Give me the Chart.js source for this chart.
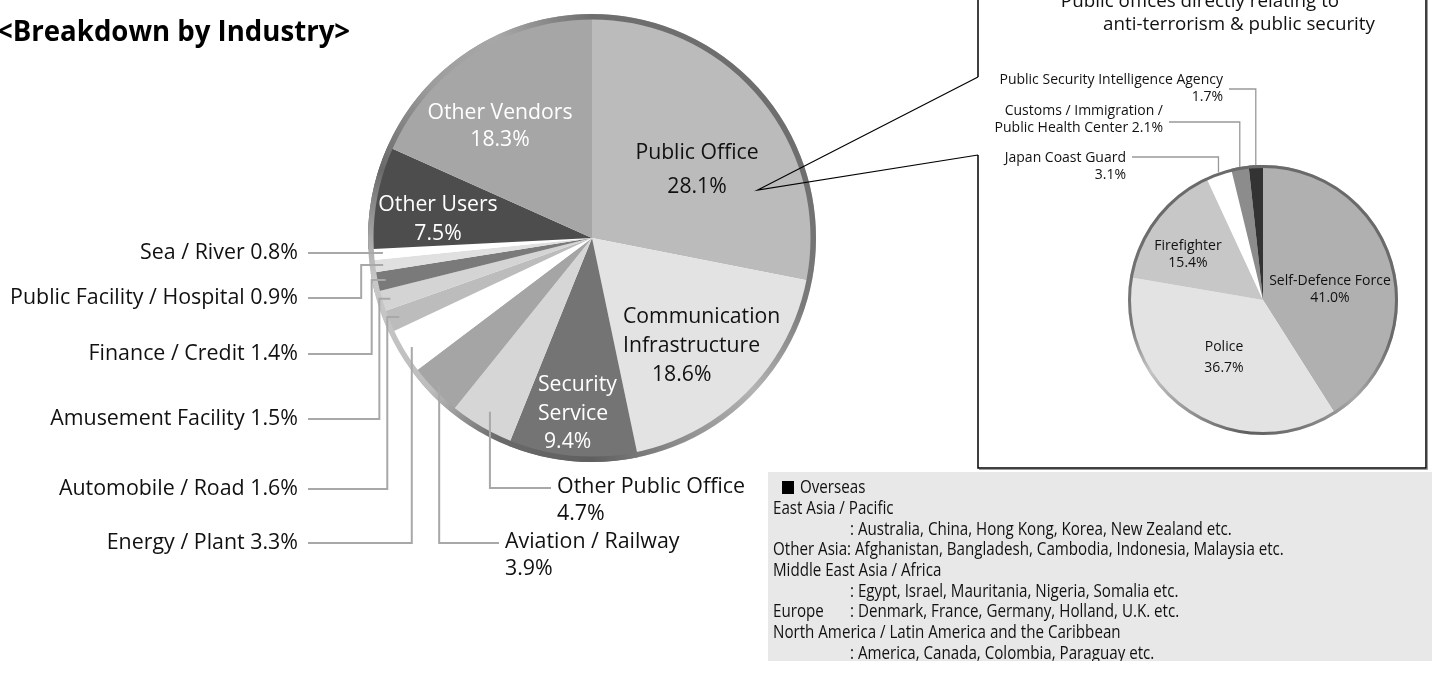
<!DOCTYPE html>
<html>
<head>
<meta charset="utf-8">
<script src="https://cdn.jsdelivr.net/npm/chart.js@4.4.1/dist/chart.umd.min.js"></script>
<style>
  html, body { margin: 0; padding: 0; background: #fff; }
  #wrap { position: relative; width: 1432px; height: 675px; overflow: hidden; }
  #wrap canvas { position: absolute; left: 0; top: 0; }
</style>
</head>
<body>
<div id="wrap">
  <canvas id="industryChart" width="1432" height="675"></canvas>
  <canvas id="securityChart" width="1432" height="675"></canvas>
</div>
<script>
// Industry breakdown (clockwise from 12 o'clock)
const industries = [
  'Public Office', 'Communication\nInfrastructure', 'Security\nService', 'Other Public Office',
  'Aviation / Railway', 'Energy / Plant', 'Automobile / Road', 'Amusement Facility',
  'Finance / Credit', 'Public Facility / Hospital', 'Sea / River', 'Other Users', 'Other Vendors'
];
const industryShares = [28.1, 18.6, 9.4, 4.7, 3.9, 3.3, 1.6, 1.5, 1.4, 0.9, 0.8, 7.5, 18.3];
const industryColors = [
  '#bbbbbb', '#e3e3e3', '#747474', '#d6d6d6', '#a5a5a5', '#ffffff', '#bcbcbc',
  '#d4d4d4', '#7a7a7a', '#e0e0e0', '#ffffff', '#4d4d4d', '#a6a6a6'
];

// Public office detail
const securityUnits = [
  'Self-Defence Force', 'Police', 'Firefighter', 'Japan Coast Guard',
  'Customs / Immigration /\nPublic Health Center', 'Public Security Intelligence Agency'
];
const securityShares = [41.0, 36.7, 15.4, 3.1, 2.1, 1.7];
const securityColors = ['#b0b0b0', '#e3e3e3', '#c7c7c7', '#ffffff', '#8c8c8c', '#333333'];

// Overseas note: [label, detail]
const overseasNote = [
  ['East Asia / Pacific', null],
  [null, ': Australia, China, Hong Kong, Korea, New Zealand etc.'],
  ['Other Asia: Afghanistan, Bangladesh, Cambodia, Indonesia, Malaysia etc.', null],
  ['Middle East Asia / Africa', null],
  [null, ': Egypt, Israel, Mauritania, Nigeria, Somalia etc.'],
  ['Europe', ': Denmark, France, Germany, Holland, U.K. etc.'],
  ['North America / Latin America and the Caribbean', null],
  [null, ': America, Canada, Colombia, Paraguay etc.']
];

const FONT = "'Open Sans', Lato, sans-serif";
Chart.defaults.font.family = FONT;

const pct = v => v.toFixed(1) + '%';

function arcPoint(arc, frac) {
  const mid = (arc.startAngle + arc.endAngle) / 2;
  const r = arc.outerRadius * frac;
  return { x: arc.x + Math.cos(mid) * r, y: arc.y + Math.sin(mid) * r };
}

// sx squeezes the text horizontally (the note block uses a narrow face)
function text(ctx, str, x, y, size, opts = {}) {
  const sx = opts.sx || 1;
  ctx.save();
  ctx.font = (opts.bold ? 'bold ' : '') + size + 'px ' + FONT;
  ctx.fillStyle = opts.color || '#111';
  ctx.textAlign = opts.align || 'left';
  ctx.textBaseline = 'middle';
  ctx.translate(x, y);
  ctx.scale(sx, 1);
  ctx.fillText(str, 0, 0);
  ctx.restore();
}

function polyline(ctx, pts, color, width) {
  ctx.save();
  ctx.beginPath();
  pts.forEach((p, k) => k ? ctx.lineTo(p[0], p[1]) : ctx.moveTo(p[0], p[1]));
  ctx.strokeStyle = color;
  ctx.lineWidth = width;
  ctx.stroke();
  ctx.restore();
}

// shaded rim around a pie
const pieRing = {
  id: 'pieRing',
  afterDatasetsDraw(chart, args, opts) {
    const arc = chart.getDatasetMeta(0).data[0];
    const ctx = chart.ctx;
    const g = ctx.createConicGradient(-Math.PI / 2, arc.x, arc.y);
    opts.stops.forEach(([o, c]) => g.addColorStop(o, c));
    ctx.save();
    ctx.beginPath();
    ctx.arc(arc.x, arc.y, arc.outerRadius - opts.width / 2, 0, Math.PI * 2);
    ctx.lineWidth = opts.width;
    ctx.strokeStyle = g;
    ctx.stroke();
    ctx.restore();
  }
};

const LABEL = 21.4;

// labels inside the big pie
const insideLabels = [
  { i: 12, x: 500, y: 113, lh: 27, color: '#fff', align: 'center' },
  { i: 0, x: 697, y: 153, lh: 34, color: '#111', align: 'center' },
  { i: 11, x: 438, y: 205, lh: 29, color: '#fff', align: 'center' },
  { i: 1, x: 623, y: 317, lh: 29, color: '#111', align: 'left', pctX: 652 },
  { i: 2, x: 538, y: 385, lh: 28.5, color: '#fff', align: 'left', pctX: 544 }
];
// left side labels with elbow leaders
const sideLabels = [
  { i: 10, y: 253, r: 0.94, stub: 0 },
  { i: 9, y: 298, r: 0.94, stub: 22 },
  { i: 8, y: 354, r: 0.94, stub: 14 },
  { i: 7, y: 419, r: 0.94, stub: 11 },
  { i: 6, y: 489, r: 0.93, stub: 12 },
  { i: 5, y: 543, r: 0.94, stub: 0 }
];
// labels under the pie, leader going right
const bottomLabels = [
  { i: 3, y: 488, x: 557, r: 0.9 },
  { i: 4, y: 543, x: 505, r: 0.95 }
];

const industryLabels = {
  id: 'industryLabels',
  afterDraw(chart) {
    const ctx = chart.ctx;
    const arcs = chart.getDatasetMeta(0).data;
    const lead = '#a8a8a8';

    text(ctx, '<Breakdown by Industry>', -3, 33, 28, { bold: true, color: '#000', sx: 0.985 });

    insideLabels.forEach(l => {
      const lines = industries[l.i].split('\n');
      lines.forEach((s, k) => text(ctx, s, l.x, l.y + k * l.lh, 21.2, { color: l.color, align: l.align }));
      text(ctx, pct(industryShares[l.i]), l.pctX || l.x, l.y + lines.length * l.lh, 21.2, { color: l.color, align: l.align });
    });

    sideLabels.forEach(l => {
      const a = arcPoint(arcs[l.i], l.r);
      const ex = a.x - l.stub;
      polyline(ctx, [[a.x, a.y], [ex, a.y], [ex, l.y], [308, l.y]], lead, 2);
      text(ctx, industries[l.i] + ' ' + pct(industryShares[l.i]), 298, l.y, LABEL, { align: 'right' });
    });

    bottomLabels.forEach(l => {
      const a = arcPoint(arcs[l.i], l.r);
      polyline(ctx, [[a.x, a.y], [a.x, l.y], [l.x - 6, l.y]], lead, 2);
      text(ctx, industries[l.i], l.x, l.y - 1, LABEL);
      text(ctx, pct(industryShares[l.i]), l.x, l.y + 26, LABEL);
    });

    // callout from Public Office to the detail box
    const po = arcs[0];
    const tipA = -Math.PI / 2 + (po.endAngle - po.startAngle) * 0.73;
    const tip = [po.x + Math.cos(tipA) * po.outerRadius * 0.77, po.y + Math.sin(tipA) * po.outerRadius * 0.77];
    polyline(ctx, [[978, 77], tip, [978, 155]], '#000', 1.2);
    polyline(ctx, [[978, -2], [978, 77]], '#000', 1.5);
    polyline(ctx, [[978, 155], [978, 468], [1426, 468], [1426, -2]], '#000', 1.5);
    polyline(ctx, [[979, 469.5], [1427.5, 469.5], [1427.5, 0]], '#9a9a9a', 1);

    // overseas note
    const sx = 0.865;
    ctx.save();
    ctx.fillStyle = '#e8e8e8';
    ctx.fillRect(768, 472, 664, 189);
    ctx.beginPath();
    ctx.rect(768, 472, 664, 189);
    ctx.clip();
    ctx.fillStyle = '#000';
    ctx.fillRect(782, 481, 12, 13);
    text(ctx, 'Overseas', 800, 488, 17.5, { sx });
    overseasNote.forEach(([head, detail], k) => {
      const y = 509 + k * 20.7;
      if (head) text(ctx, head, 773, y, 17.5, { sx });
      if (detail) text(ctx, detail, 850, y, 17.5, { sx });
    });
    ctx.restore();
  }
};

new Chart(document.getElementById('industryChart'), {
  type: 'pie',
  data: {
    labels: industries,
    datasets: [{ data: industryShares, backgroundColor: industryColors, borderWidth: 0 }]
  },
  options: {
    responsive: false,
    animation: false,
    events: [],
    layout: { padding: { left: 368, right: 616, top: 14, bottom: 213 } },
    plugins: {
      legend: { display: false },
      tooltip: { enabled: false },
      pieRing: {
        width: 5.5,
        stops: [
          [0, '#6e6e6e'], [0.2, '#6e6e6e'], [0.3, '#7a7a7a'], [0.37, '#b3b3b3'], [0.44, '#8a8a8a'],
          [0.5, '#5f5f5f'], [0.57, '#6a6a6a'], [0.63, '#bdbdbd'], [0.72, '#c8c8c8'], [0.76, '#9a9a9a'],
          [0.8, '#6a6a6a'], [0.87, '#9c9c9c'], [0.93, '#a8a8a8'], [1, '#6e6e6e']
        ]
      }
    }
  },
  plugins: [pieRing, industryLabels]
});

// detail pie labels
const unitInside = [
  { i: 0, x: 1330, y: 281, lh: 17 },
  { i: 1, x: 1224, y: 347, lh: 21 },
  { i: 2, x: 1188, y: 246, lh: 17 }
];
const unitSide = [
  { i: 5, lineY: 89, textX: 1223, textY: 80 },
  { i: 4, lineY: 122, textX: 1163, textY: 111, inline: true },
  { i: 3, lineY: 157, textX: 1126, textY: 158 }
];

const securityLabels = {
  id: 'securityLabels',
  afterDraw(chart) {
    const ctx = chart.ctx;
    const arcs = chart.getDatasetMeta(0).data;

    text(ctx, 'Public offices directly relating to', 1200, 2, 18.8, { align: 'center' });
    text(ctx, 'anti-terrorism & public security', 1239, 25, 18.8, { align: 'center' });

    unitInside.forEach(l => {
      text(ctx, securityUnits[l.i], l.x, l.y, 14, { align: 'center' });
      text(ctx, pct(securityShares[l.i]), l.x, l.y + l.lh, 14, { align: 'center' });
    });

    unitSide.forEach(l => {
      const a = arcPoint(arcs[l.i], 1.0);
      polyline(ctx, [[a.x, a.y], [a.x, l.lineY], [l.textX + 6, l.lineY]], '#999', 1.3);
      const lines = securityUnits[l.i].split('\n');
      if (l.inline) lines[lines.length - 1] += ' ' + pct(securityShares[l.i]);
      else lines.push(pct(securityShares[l.i]));
      lines.forEach((s, k) => text(ctx, s, l.textX, l.textY + k * 17, 14, { align: 'right' }));
    });
  }
};

new Chart(document.getElementById('securityChart'), {
  type: 'pie',
  data: {
    labels: securityUnits,
    datasets: [{ data: securityShares, backgroundColor: securityColors, borderWidth: 0 }]
  },
  options: {
    responsive: false,
    animation: false,
    events: [],
    layout: { padding: { left: 1128, right: 34, top: 165, bottom: 240 } },
    plugins: {
      legend: { display: false },
      tooltip: { enabled: false },
      pieRing: {
        width: 3,
        stops: [
          [0, '#6a6a6a'], [0.3, '#6a6a6a'], [0.38, '#a8a8a8'], [0.45, '#7a7a7a'], [0.52, '#5e5e5e'],
          [0.6, '#9a9a9a'], [0.66, '#c4c4c4'], [0.72, '#7a7a7a'], [0.85, '#6a6a6a'], [1, '#6a6a6a']
        ]
      }
    }
  },
  plugins: [pieRing, securityLabels]
});
</script>
</body>
</html>
